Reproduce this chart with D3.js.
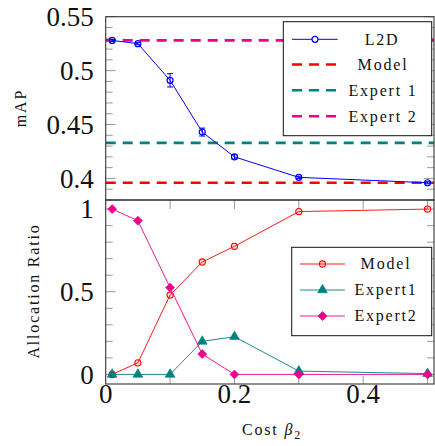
<!DOCTYPE html>
<html>
<head>
<meta charset="utf-8">
<script src="https://cdn.jsdelivr.net/npm/d3@7"></script>
<style>
  body { margin: 0; background: #fff; }
  svg text { fill: #111; }
</style>
</head>
<body>
<svg id="chart" width="435" height="446"></svg>
<script>
// cost values on the x axis
var cost = [0.01, 0.05, 0.1, 0.15, 0.2, 0.3, 0.5];
// top panel: mAP of L2D with error, plus the three baselines
var l2dMap = [0.528, 0.525, 0.491, 0.443, 0.420, 0.401, 0.396];
var l2dErr = [0.001, 0.001, 0.0062, 0.0037, 0.002, 0.001, 0.001];
var baselineNames = ["Model", "Expert 1", "Expert 2"];
var baselineMap = [0.396, 0.433, 0.528];
// bottom panel: allocation ratio
var allocNames = ["Model", "Expert1", "Expert2"];
var modelAlloc = [0.0, 0.07, 0.48, 0.68, 0.775, 0.985, 1.0];
var expert1Alloc = [0.0, 0.0, 0.0, 0.2, 0.228, 0.02, 0.005];
var expert2Alloc = [1.0, 0.93, 0.525, 0.123, 0.0, 0.0, 0.0];
// ticks
var xTicks = [0, 0.2, 0.4];
var topTicks = [0.4, 0.45, 0.5, 0.55];
var botTicks = [0, 0.5, 1];

var red = "#ff0000", teal = "#008080", pink = "#ec008c", blue = "#0000ff";
var baseColors = [red, teal, pink];
var allocColors = [red, teal, pink];
var allocSeries = [modelAlloc, expert1Alloc, expert2Alloc];

var serif = "'Liberation Serif', 'DejaVu Serif', 'Noto Serif', Tinos, 'Times New Roman', Times, FreeSerif, Georgia, serif";
var svg = d3.select("#chart");
var pLeft = 105.7, pRight = 434, pTop = 16.7, pMid = 200, pBottom = 384;

var x = d3.scaleLinear().domain([0, 0.51]).range([pLeft, pRight]);
var yTop = d3.scaleLinear().domain([0.38, 0.55]).range([pMid, pTop]);
var yBot = d3.scaleLinear().domain([-0.058, 1.055]).range([pBottom, pMid]);

var tickColor = "#9a9a9a";

// ---- y ticks (inward, both sides)
function yTickMarks(scale, minorStep, majorStep) {
  var d = scale.domain();
  var vals = d3.range(Math.ceil(d[0] / minorStep - 1e-6) * minorStep, d[1] + 1e-9, minorStep);
  vals.forEach(function(v) {
    var isMajor = Math.abs(v / majorStep - Math.round(v / majorStep)) < 1e-6;
    var len = isMajor ? 10 : 7;
    var yy = scale(v);
    svg.append("line").attr("x1", pLeft).attr("x2", pLeft + len).attr("y1", yy).attr("y2", yy)
      .attr("stroke", tickColor).attr("stroke-width", 1);
    svg.append("line").attr("x1", pRight).attr("x2", pRight - len).attr("y1", yy).attr("y2", yy)
      .attr("stroke", tickColor).attr("stroke-width", 1);
  });
}
yTickMarks(yTop, 0.01, 0.05);
yTickMarks(yBot, 0.1, 0.5);

// ---- x ticks on bottom panel (top and bottom edges)
d3.range(0.1, 0.51, 0.1).forEach(function(v) {
  var xx = x(v);
  svg.append("line").attr("x1", xx).attr("x2", xx).attr("y1", pMid).attr("y2", pMid + 9)
    .attr("stroke", tickColor);
  svg.append("line").attr("x1", xx).attr("x2", xx).attr("y1", pBottom).attr("y2", pBottom - 8)
    .attr("stroke", tickColor);
});

function label(sel, size) {
  return sel.style("font-family", serif).style("font-size", size);
}

// ---- tick labels
label(svg.selectAll(".ty").data(topTicks).enter().append("text"), "27px")
  .attr("x", pLeft - 12).attr("y", function(d) { return yTop(d); })
  .attr("dy", "0.34em").attr("text-anchor", "end")
  .text(function(d) { return d3.format("")(d); });
label(svg.selectAll(".by").data(botTicks).enter().append("text"), "27px")
  .attr("x", pLeft - 12).attr("y", function(d) { return yBot(d); })
  .attr("dy", "0.34em").attr("text-anchor", "end")
  .text(function(d) { return d3.format("")(d); });
label(svg.selectAll(".bx").data(xTicks).enter().append("text"), "27px")
  .attr("x", function(d) { return x(d); }).attr("y", 403)
  .attr("text-anchor", "middle")
  .text(function(d) { return d3.format("")(d); });

// ---- axis labels
label(svg.append("text"), "16px").attr("transform", "translate(26,108) rotate(-90)")
  .attr("text-anchor", "middle").style("letter-spacing", "1.8px")
  .text("mAP");
label(svg.append("text"), "16px").attr("transform", "translate(39,291) rotate(-90)")
  .attr("text-anchor", "middle").style("letter-spacing", "1.8px")
  .text("Allocation Ratio");
var xl = label(svg.append("text"), "16px").attr("x", 272).attr("y", 435)
  .attr("text-anchor", "middle").style("letter-spacing", "1.8px");
xl.append("tspan").text("Cost ");
xl.append("tspan").style("font-style", "italic").text("β");
xl.append("tspan").attr("dy", 4).style("font-size", "12px").text("2");

// ---- clip paths
var defs = svg.append("defs");
defs.append("clipPath").attr("id", "clipTop").append("rect")
  .attr("x", pLeft).attr("y", pTop).attr("width", pRight - pLeft).attr("height", pMid - pTop);
defs.append("clipPath").attr("id", "clipBot").append("rect")
  .attr("x", pLeft).attr("y", pMid).attr("width", pRight - pLeft).attr("height", pBottom - pMid);

// ---- top panel
var gTop = svg.append("g").attr("clip-path", "url(#clipTop)");
var dash = "10,7";
baselineMap.forEach(function(v, i) {
  gTop.append("line").attr("x1", pLeft).attr("x2", pRight)
    .attr("y1", yTop(v)).attr("y2", yTop(v))
    .attr("stroke", baseColors[i]).attr("stroke-width", 2.6).attr("stroke-dasharray", dash);
});

var l2d = cost.map(function(c, i) { return { x: c, y: l2dMap[i], e: l2dErr[i] }; });
gTop.append("path").datum(l2d)
  .attr("d", d3.line().x(function(d) { return x(d.x); }).y(function(d) { return yTop(d.y); }))
  .attr("fill", "none").attr("stroke", blue).attr("stroke-width", 1);
var eb = gTop.selectAll(".eb").data(l2d).enter().append("g");
eb.append("line")
  .attr("x1", function(d) { return x(d.x); }).attr("x2", function(d) { return x(d.x); })
  .attr("y1", function(d) { return yTop(d.y - d.e); }).attr("y2", function(d) { return yTop(d.y + d.e); })
  .attr("stroke", blue).attr("stroke-width", 1);
[-1, 1].forEach(function(s) {
  eb.append("line")
    .attr("x1", function(d) { return x(d.x) - 3; }).attr("x2", function(d) { return x(d.x) + 3; })
    .attr("y1", function(d) { return yTop(d.y + s * d.e); }).attr("y2", function(d) { return yTop(d.y + s * d.e); })
    .attr("stroke", blue).attr("stroke-width", 1);
});
gTop.selectAll(".pt").data(l2d).enter().append("circle")
  .attr("cx", function(d) { return x(d.x); }).attr("cy", function(d) { return yTop(d.y); })
  .attr("r", 3).attr("fill", "none").attr("stroke", blue).attr("stroke-width", 1.2);

// ---- bottom panel
var gBot = svg.append("g").attr("clip-path", "url(#clipBot)");
var symbols = [d3.symbolCircle, d3.symbolTriangle, d3.symbolSquare];
var symSizes = [30, 42, 40];
function drawMarker(g, k, cx, cy) {
  var sym = d3.symbol().type(symbols[k]).size(symSizes[k]);
  var tr = "translate(" + cx + "," + cy + ")" + (k == 2 ? " rotate(45)" : "");
  var p = g.append("path").attr("d", sym()).attr("transform", tr);
  if (k == 0) p.attr("fill", "rgba(255,0,0,0.15)").attr("stroke", red).attr("stroke-width", 1.1);
  else p.attr("fill", allocColors[k]).attr("stroke", allocColors[k]).attr("stroke-width", 0.6);
  return p;
}
allocSeries.forEach(function(series, k) {
  var pts = cost.map(function(c, i) { return [x(c), yBot(series[i])]; });
  gBot.append("path").datum(pts).attr("d", d3.line())
    .attr("fill", "none").attr("stroke", allocColors[k]).attr("stroke-width", 0.9);
  pts.forEach(function(p) { drawMarker(gBot, k, p[0], p[1]); });
});

// ---- frames
[[pTop, pMid], [pMid, pBottom]].forEach(function(r) {
  svg.append("rect").attr("x", pLeft).attr("y", r[0]).attr("width", pRight - pLeft).attr("height", r[1] - r[0])
    .attr("fill", "none").attr("stroke", "#333").attr("stroke-width", 1.1);
});

// ---- top legend
var lg1 = svg.append("g");
lg1.append("rect").attr("x", 283.3).attr("y", 21.7).attr("width", 148.4).attr("height", 114)
  .attr("fill", "#fff").attr("stroke", "#111").attr("stroke-width", 1);
var rows1 = [39.3, 64.5, 90.3, 116.3];
lg1.append("line").attr("x1", 292).attr("x2", 337.7).attr("y1", rows1[0]).attr("y2", rows1[0])
  .attr("stroke", blue).attr("stroke-width", 1);
lg1.append("circle").attr("cx", 315).attr("cy", rows1[0]).attr("r", 3)
  .attr("fill", "#fff").attr("stroke", blue).attr("stroke-width", 1.2);
label(lg1.append("text"), "16px").attr("x", 382).attr("y", rows1[0]).attr("dy", "0.34em")
  .attr("text-anchor", "middle").style("letter-spacing", "1.8px").text("L2D");
baselineNames.forEach(function(n, i) {
  var yy = rows1[i + 1];
  lg1.append("line").attr("x1", 292).attr("x2", 337.7).attr("y1", yy).attr("y2", yy)
    .attr("stroke", baseColors[i]).attr("stroke-width", 2.6).attr("stroke-dasharray", dash);
  label(lg1.append("text"), "16px").attr("x", 383).attr("y", yy).attr("dy", "0.34em")
    .attr("text-anchor", "middle").style("letter-spacing", "1.8px").text(n);
});

// ---- bottom legend
var lg2 = svg.append("g");
lg2.append("rect").attr("x", 291.7).attr("y", 247.3).attr("width", 140).attr("height", 88.4)
  .attr("fill", "#fff").attr("stroke", "#111").attr("stroke-width", 1);
var rows2 = [264, 290, 316];
allocNames.forEach(function(n, k) {
  var yy = rows2[k];
  lg2.append("line").attr("x1", 300).attr("x2", 345).attr("y1", yy).attr("y2", yy)
    .attr("stroke", allocColors[k]).attr("stroke-width", 0.9);
  drawMarker(lg2, k, 322.5, yy);
  label(lg2.append("text"), "16px").attr("x", 386).attr("y", yy).attr("dy", "0.34em")
    .attr("text-anchor", "middle").style("letter-spacing", "1.8px").text(n);
});
</script>
</body>
</html>
